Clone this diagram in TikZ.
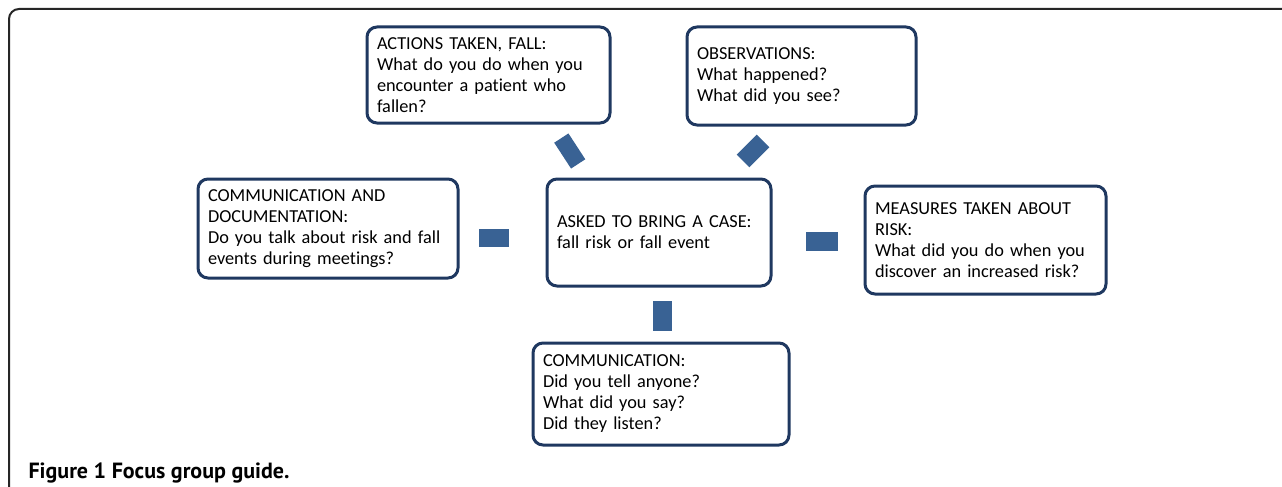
\documentclass[tikz,border=0pt]{standalone}
\usepackage{fontspec}
\setmainfont{Carlito}[Ligatures=CommonOff]
\newfontfamily\capfont{PT Sans}
\usepackage{tikz}
\usetikzlibrary{positioning}

\definecolor{boxnavy}{RGB}{31,56,96}
\definecolor{linkblue}{RGB}{57,98,148}

\begin{document}
\begin{tikzpicture}[
    x=1pt, y=-1pt,
    box/.style={draw=boxnavy, line width=3pt, rounded corners=10pt, align=left,
        inner xsep=10pt, inner ysep=0pt, outer sep=0pt,
        font=\fontsize{18.3}{21}\selectfont},
    link/.style={draw=linkblue, line width=#1},
    link/.default=19pt
]
    \useasboundingbox (0,0) rectangle (1282,487);

    % Frame
    \draw[line width=2pt, rounded corners=10pt, black!85] (9,487) -- (9,9) -- (1282,9);

    % Boxes
    \node[box, text width=223pt, minimum height=96pt] (actions) at (488.5,75)
        {ACTIONS TAKEN, FALL:\\What do you do when you\\encounter a patient who\\fallen?};
    \node[box, text width=209pt, minimum height=98pt] (observ) at (801.5,76)
        {OBSERVATIONS:\\What happened?\\What did you see?};
    \node[box, text width=240pt, minimum height=99pt] (commdoc) at (328,228.5)
        {COMMUNICATION AND\\DOCUMENTATION:\\Do you talk about risk and fall\\events during meetings?};
    \node[box, text width=204pt, minimum height=107pt] (case) at (659,232.5)
        {ASKED TO BRING A CASE:\\fall risk or fall event};
    \node[box, text width=221pt, minimum height=108pt] (measures) at (985.5,240)
        {MEASURES TAKEN ABOUT\\RISK:\\What did you do when you\\discover an increased risk?};
    \node[box, text width=236pt, minimum height=102pt] (communic) at (661,394)
        {COMMUNICATION:\\Did you tell anyone?\\What did you say?\\Did they listen?};

    % Connectors
    \draw[link=18pt, shorten <=21pt, shorten >=38pt] ([yshift=-9.5pt]commdoc.east) -- ([yshift=-5.5pt]case.west);
    \draw[link, shorten <=35pt, shorten >=27pt] ([yshift=-9pt]case.east) -- ([yshift=-1.5pt]measures.west);
    \draw[link, shorten <=15pt, shorten >=12pt] ([xshift=3.5pt]case.south) -- ([xshift=1.5pt]communic.north);
    \draw[link=17pt, shorten <=18pt, shorten >=18pt] ([xshift=63pt]actions.south) -- ([xshift=-71pt]case.north);
    \draw[link=18pt, shorten <=22.6pt, shorten >=25.5pt] ([xshift=-22.5pt]observ.south) -- ([xshift=66pt]case.north);

    % Caption
    \node[anchor=base west, font=\capfont\bfseries\fontsize{22}{26}\selectfont] (caption) at (25,478)
        {Figure 1 Focus group guide.};
\end{tikzpicture}
\end{document}
